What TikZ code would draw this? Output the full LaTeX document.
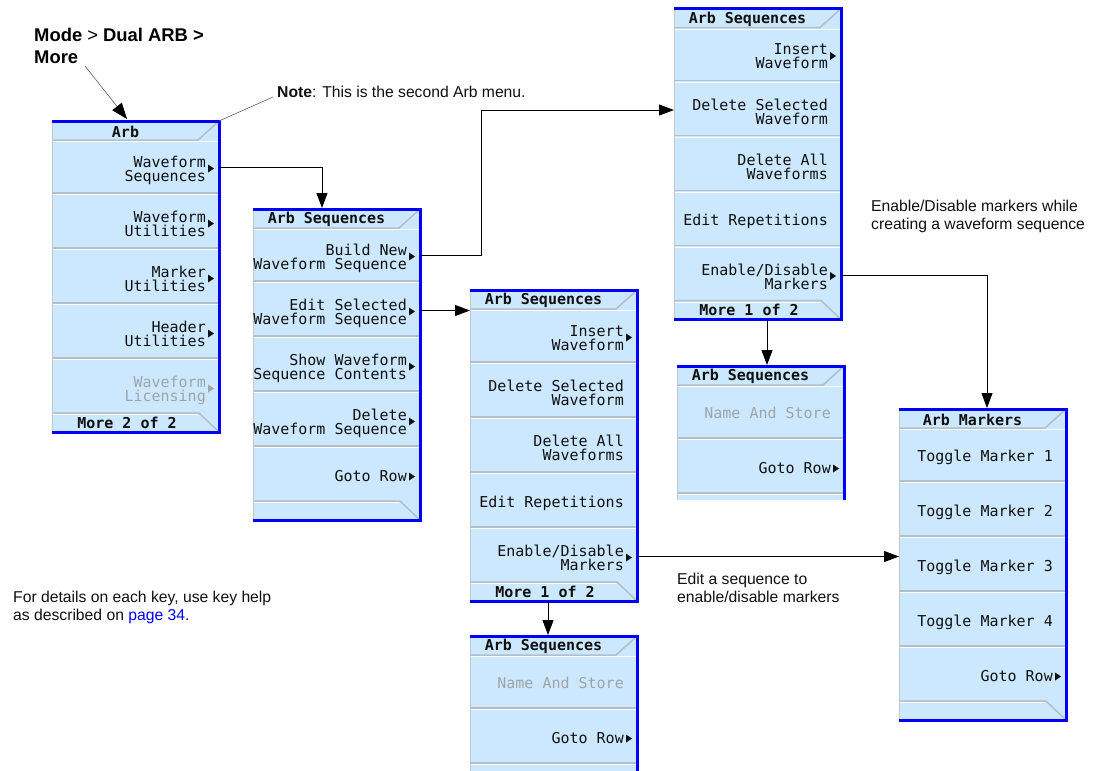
\documentclass[tikz,border=0pt]{standalone}
\usepackage{fontspec}
\setmainfont{Liberation Sans}
\newfontfamily\menufont{DejaVu Sans Mono}
\usetikzlibrary{arrows.meta,calc}
\definecolor{menufill}{HTML}{CCE8FF}
\definecolor{menublue}{HTML}{0000F5}
\definecolor{sepgray}{HTML}{B4BEC8}
\definecolor{edgegray}{HTML}{C4C6C8}
\definecolor{dimgray}{HTML}{A0A4A8}
\definecolor{keytext}{HTML}{101010}
\definecolor{linkblue}{HTML}{0000FF}
\definecolor{leadergray}{HTML}{606060}
\tikzset{
 framebox/.style={fill=menufill, draw=none, minimum width=167pt, inner sep=0pt, outer sep=0pt},
 btnbox/.style={draw=none, minimum width=167pt, minimum height=53pt, inner sep=0pt, outer sep=0pt},
 keytxt/.style={font=\menufont\fontsize{15}{14}\selectfont, text=keytext, align=right, inner sep=0pt, text depth=0pt},
 dimtxt/.style={keytxt, text=dimgray},
 titletxt/.style={font=\menufont\bfseries\fontsize{15}{15}\selectfont, text=keytext, inner sep=0pt},
 sepline/.style={draw=sepgray, line width=1.5pt},
 hiline/.style={draw=white, line width=0.8pt},
 blueedge/.style={draw=menublue, line width=3pt, line join=miter},
 leftedge/.style={draw=edgegray, line width=1.2pt},
 conn/.style={draw=black, line width=0.9pt, -{Triangle[length=15pt,width=11pt]}},
 annot/.style={font=\fontsize{15.7}{18.3}\selectfont, align=left, inner sep=0pt, anchor=north west, text=keytext},
 leader/.style={draw=leadergray, line width=0.6pt},
}
% full menu: name, left, top, title, bottom text
\newcommand\mframe[5]{%
 \node[framebox, anchor=north west, minimum height=311pt] (#1) at (#2,#3) {};
 \draw[sepline] ($(#1.north west)+(1,19)$) -- ($(#1.north east)+(-21,19)$) -- ($(#1.north east)+(-1,1)$);
 \draw[hiline] ($(#1.north west)+(1,20.6)$) -- ($(#1.north east)+(-1,20.6)$);
 \foreach \k in {1,2,3,4}{%
   \draw[sepline] ($(#1.north west)+(1,17+55*\k)$) -- ($(#1.north east)+(-1,17+55*\k)$);
   \draw[hiline] ($(#1.north west)+(1,18.6+55*\k)$) -- ($(#1.north east)+(-1,18.6+55*\k)$);
 }
 \draw[sepline] ($(#1.north west)+(1,292)$) -- ($(#1.north east)+(-20,292)$) -- ($(#1.south east)+(-1,-1)$);
 \draw[hiline] ($(#1.north west)+(1,293.6)$) -- ($(#1.north east)+(-21,293.6)$);
 \draw[leftedge] ($(#1.north west)+(0.6,0)$) -- ($(#1.south west)+(0.6,0)$);
 \draw[blueedge] (#1.north west) -- (#1.north east) -- (#1.south east) -- (#1.south west);
 \node[titletxt] (#1-title) at ($(#1.north west)+(73.5,10.5)$) {#4};
 \node[titletxt] (#1-more) at ($(#1.south west)+(75,-9.5)$) {#5};
}
% cut-off menu: name, left, top, height, title
\newcommand\cframe[5]{%
 \node[framebox, anchor=north west, minimum height=#4] (#1) at (#2,#3) {};
 \draw[sepline] ($(#1.north west)+(1,19)$) -- ($(#1.north east)+(-21,19)$) -- ($(#1.north east)+(-1,1)$);
 \draw[hiline] ($(#1.north west)+(1,20.6)$) -- ($(#1.north east)+(-1,20.6)$);
 \foreach \k in {1,2}{%
   \draw[sepline] ($(#1.north west)+(1,17+55*\k)$) -- ($(#1.north east)+(-1,17+55*\k)$);
   \draw[hiline] ($(#1.north west)+(1,18.6+55*\k)$) -- ($(#1.north east)+(-1,18.6+55*\k)$);
 }
 \draw[leftedge] ($(#1.north west)+(0.6,0)$) -- ($(#1.south west)+(0.6,0)$);
 \draw[blueedge] (#1.north west) -- (#1.north east) -- (#1.south east);
 \node[titletxt] (#1-title) at ($(#1.north west)+(73.5,10.5)$) {#5};
}
% softkey: [text shift] name, menu, index, style, text
\newcommand\softkey[6][0]{%
 \node[btnbox, anchor=west] (#2) at ($(#3.north west)+(0,-8.5+55*#4)$) {};
 \node[#5, anchor=east] (#2-t) at ($(#2.east)+(-13,#1)$) {#6};
}
\newcommand\keytri[2][keytext]{%
 \fill[#1] ($(#2.east)+(-11,-3)$) -- ++(0,8) -- ++(6,-4) -- cycle;
}
\begin{document}
\begin{tikzpicture}[x=1pt,y=-1pt]
\useasboundingbox[fill=white] (0,0) rectangle (1096,771);

% ---- menu 1: Arb
\mframe{m1}{52}{121}{Arb}{More 2 of 2}
\softkey[1.5]{m1b1}{m1}{1}{keytxt}{Waveform\\Sequences}\keytri{m1b1}
\softkey[1.5]{m1b2}{m1}{2}{keytxt}{Waveform\\Utilities}\keytri{m1b2}
\softkey[1.5]{m1b3}{m1}{3}{keytxt}{Marker\\Utilities}\keytri{m1b3}
\softkey[1.5]{m1b4}{m1}{4}{keytxt}{Header\\Utilities}\keytri{m1b4}
\softkey[1.5]{m1b5}{m1}{5}{dimtxt}{Waveform\\Licensing}\keytri[dimgray]{m1b5}

% ---- menu 2: Arb Sequences
\mframe{m2}{253}{209}{Arb Sequences}{}
\softkey[1.5]{m2b1}{m2}{1}{keytxt}{Build New\\Waveform Sequence}\keytri{m2b1}
\softkey[1.5]{m2b2}{m2}{2}{keytxt}{Edit Selected\\Waveform Sequence}\keytri{m2b2}
\softkey[1.5]{m2b3}{m2}{3}{keytxt}{Show Waveform\\Sequence Contents}\keytri{m2b3}
\softkey[1.5]{m2b4}{m2}{4}{keytxt}{Delete\\Waveform Sequence}\keytri{m2b4}
\softkey{m2b5}{m2}{5}{keytxt}{Goto Row}\keytri{m2b5}

% ---- menu 3: Arb Sequences (edit)
\mframe{m3}{470}{290}{Arb Sequences}{More 1 of 2}
\softkey[1.5]{m3b1}{m3}{1}{keytxt}{Insert\\Waveform}\keytri{m3b1}
\softkey[1.5]{m3b2}{m3}{2}{keytxt}{Delete Selected\\Waveform}
\softkey[1.5]{m3b3}{m3}{3}{keytxt}{Delete All\\Waveforms}
\softkey{m3b4}{m3}{4}{keytxt}{Edit Repetitions}
\softkey[1.5]{m3b5}{m3}{5}{keytxt}{Enable/Disable\\Markers}\keytri{m3b5}

% ---- menu 4: Arb Sequences (build)
\mframe{m4}{674}{8.5}{Arb Sequences}{More 1 of 2}
\softkey[1.5]{m4b1}{m4}{1}{keytxt}{Insert\\Waveform}\keytri{m4b1}
\softkey[1.5]{m4b2}{m4}{2}{keytxt}{Delete Selected\\Waveform}
\softkey[1.5]{m4b3}{m4}{3}{keytxt}{Delete All\\Waveforms}
\softkey{m4b4}{m4}{4}{keytxt}{Edit Repetitions}
\softkey[1.5]{m4b5}{m4}{5}{keytxt}{Enable/Disable\\Markers}\keytri{m4b5}

% ---- menu 5: second page of menu 4
\cframe{m5}{677}{366}{134pt}{Arb Sequences}
\softkey{m5b1}{m5}{1}{dimtxt}{Name And Store}
\softkey{m5b2}{m5}{2}{keytxt}{Goto Row}\keytri{m5b2}

% ---- menu 6: second page of menu 3
\cframe{m6}{470}{636}{135pt}{Arb Sequences}
\softkey{m6b1}{m6}{1}{dimtxt}{Name And Store}
\softkey{m6b2}{m6}{2}{keytxt}{Goto Row}\keytri{m6b2}

% ---- menu 7: Arb Markers
\mframe{m7}{899}{409}{Arb Markers}{}
\softkey{m7b1}{m7}{1}{keytxt}{Toggle Marker 1}
\softkey{m7b2}{m7}{2}{keytxt}{Toggle Marker 2}
\softkey{m7b3}{m7}{3}{keytxt}{Toggle Marker 3}
\softkey{m7b4}{m7}{4}{keytxt}{Toggle Marker 4}
\softkey{m7b5}{m7}{5}{keytxt}{Goto Row}\keytri{m7b5}

% ---- annotations
\node[font=\bfseries\fontsize{18.4}{21.5}\selectfont, align=left, anchor=north west, inner sep=0pt, text=black] (mode) at (34,28) {Mode \textmd{>} Dual ARB >\\More};
\node[annot, anchor=north west] (note) at (277,86) {\textbf{Note}: This is the second Arb menu.};
\node[annot] (enabletxt) at (871,200) {Enable/Disable markers while\\creating a waveform sequence};
\node[annot] (edittxt) at (677,573) {Edit a sequence to\\enable/disable markers};
\node[annot] (detailtxt) at (13,591) {For details on each key, use key help\\as described on \textcolor{linkblue}{page 34}.};

\coordinate (modestart) at (85,66);
\coordinate (modeend) at ($(m1.north west)+(75,-2)$);
\draw[leader, -{Triangle[length=16pt,width=12pt,color=black]}] (modestart) -- (modeend);
\draw[leader] ($(note.west)+(-4,5)$) -- (m1.north east);

% ---- connectors
\draw[conn] (m1b1.east) -| ($(m2.north west)+(69,-1)$);
\draw[conn] (m2b1.east) -- ++(61,0) |- (m4b2.west);
\draw[conn] (m2b2.east) -- (m2b2.east -| m3.west);
\draw[conn] (m3b5.east) -- (m3b5.east -| m7.west);
\draw[conn] (m4b5.east) -| ($(m7.north west)+(88,-1)$);
\draw[conn] ($(m4.south west)+(93,1)$) -- ($(m5.north west)+(90,-1)$);
\draw[conn] ($(m3.south west)+(78,1)$) -- ($(m6.north west)+(78,-1)$);
\end{tikzpicture}
\end{document}
